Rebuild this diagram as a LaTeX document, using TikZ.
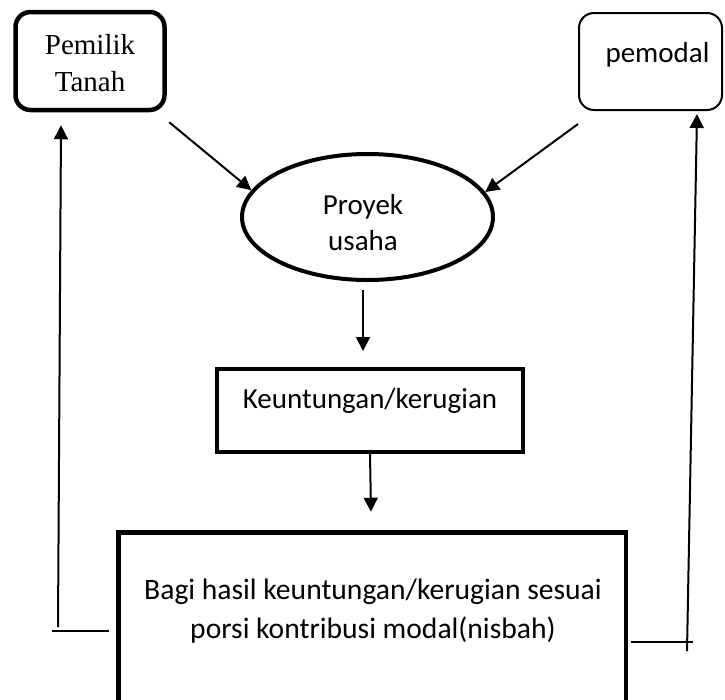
\documentclass[tikz,border=0pt]{standalone}
\usepackage{fontspec}
\setmainfont{Carlito}
\newfontfamily\timesfont{Liberation Serif}
\usetikzlibrary{arrows.meta,shapes.geometric}
\begin{document}
\begin{tikzpicture}[x=1pt,y=-1pt,
  font=\fontsize{29}{36}\selectfont,
  thickbox/.style={draw, line width=4.5pt, inner sep=0pt},
  arr/.style={line width=2pt, -{Triangle[width=14pt,length=14pt]}},
  ln/.style={line width=1.8pt},
]
\useasboundingbox (0,0) rectangle (725,699);
\clip (0,0) rectangle (725,699);

\node[thickbox, rounded corners=15pt, minimum width=149pt, minimum height=98pt,
      align=center, font=\timesfont\fontsize{29}{37}\selectfont] (pt) at (90,61)
      {\rule{0pt}{25pt}Pemilik\\Tanah};
\node[draw, line width=2pt, rounded corners=15pt, inner sep=0pt, minimum width=143pt,
      minimum height=97pt, text height=20pt, text depth=19pt] (pm) at (650.5,61.5)
      {\hspace*{14pt}pemodal};
\node[thickbox, ellipse, line width=4pt, minimum width=251pt, minimum height=126pt,
      align=center] (ell) at (367.5,217)
      {\rule{0pt}{31pt}Proyek\hspace*{9pt}\\usaha\hspace*{9pt}};
\node[thickbox, line width=4pt, minimum width=306pt, minimum height=83pt,
      text height=22pt, text depth=27pt] (kr) at (370,410.5) {Keuntungan/kerugian};
\node[thickbox, minimum width=507.5pt, minimum height=200pt] (bot) at (372,632.5) {};
\node[align=center, inner sep=0pt, font=\fontsize{29.6}{39}\selectfont] (bottxt) at (373,612)
      {\rule{0pt}{21pt}Bagi hasil keuntungan/kerugian sesuai\\porsi kontribusi modal(nisbah)\rule[-7pt]{0pt}{7pt}};

\draw[arr] ([shift={(2.5,10)}]pt.south east) -- (ell.167);
\draw[arr] ([shift={(0,13)}]pm.south west) -- (ell.12);
\draw[arr] ([shift={(-4.5,8)}]ell.south) -- ([shift={(-7,-16)}]kr.north);
\draw[arr] (kr.south) -- ([shift={(-1,-18.5)}]bot.north);

\coordinate (lc) at (52,631);
\coordinate (lb) at (58,627);
\draw[ln] ([shift={(-7.5,-1.5)}]bot.west) -- (lc);
\draw[arr] (lb) -- ([shift={(-29,13)}]pt.south);

\coordinate (rc) at (693,642);
\coordinate (rb) at (687,651);
\draw[ln] ([shift={(2.5,9.5)}]bot.east) -- (rc);
\draw[arr] (rb) -- ([shift={(46.5,3)}]pm.south);
\end{tikzpicture}
\end{document}
